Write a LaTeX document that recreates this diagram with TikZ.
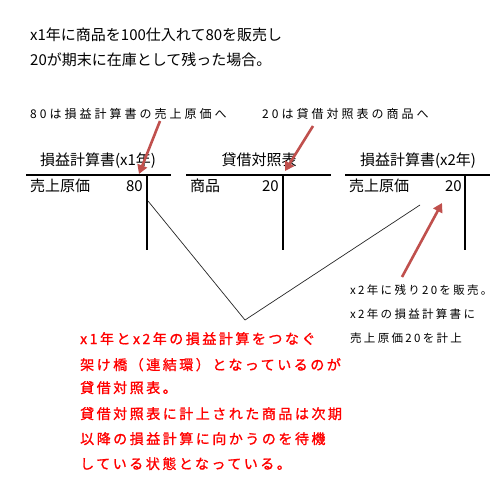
\documentclass[tikz,border=0pt]{standalone}
\usepackage{fontspec}
\setmainfont{Noto Sans CJK JP}
\newfontfamily\hand[LetterSpace=25]{Noto Sans CJK JP}
\newfontfamily\handnote[LetterSpace=20]{Noto Sans CJK JP}
\newfontfamily\handred[LetterSpace=18,FakeBold=1.2]{Noto Sans CJK JP}
\usetikzlibrary{arrows.meta}
\definecolor{arrowred}{RGB}{192,80,77}
\definecolor{textred}{RGB}{255,0,0}
\tikzset{
  maintext/.style={inner sep=0pt, font=\fontsize{15}{18}\selectfont, text height=11pt, text depth=3pt},
  handtext/.style={inner sep=0pt, font=\hand\fontsize{12}{14}\selectfont, text height=9pt, text depth=2pt},
  notetext/.style={inner sep=0pt, font=\handnote\fontsize{11.5}{14}\selectfont, text height=9pt, text depth=2pt},
  redtext/.style={inner sep=0pt, font=\handred\fontsize{14}{16}\selectfont, text height=10.5pt, text depth=2.5pt, text=textred},
  rule/.style={line width=1.2pt, black},
  pointer/.style={line width=2.6pt, arrowred, -{Triangle[length=9pt,width=10pt]}},
  link/.style={line width=0.7pt, black!85},
}
\begin{document}
\begin{tikzpicture}[x=1pt,y=-1pt]
\useasboundingbox[fill=white] (0,0) rectangle (500,476);
% intro text
\node[maintext, anchor=west] (intro1) at (30,37) {x1年に商品を100仕入れて80を販売し};
\node[maintext, anchor=west] (intro2) at (30,62) {20が期末に在庫として残った場合。};
% hand labels
\node[handtext, anchor=west] (lab1) at (30,115) {80は損益計算書の売上原価へ};
\node[handtext, anchor=west] (lab2) at (262,115) {20は貸借対照表の商品へ};
% headers
\node[maintext] (h1) at (98,161) {損益計算書(x1年)};
\node[maintext] (h2) at (259,161) {貸借対照表};
\node[maintext] (h3) at (418,161) {損益計算書(x2年)};
% T-account rules
\coordinate (a1l) at (26,175); \coordinate (a1r) at (171,175);
\coordinate (a1t) at (147,175); \coordinate (a1b) at (147,250);
\coordinate (a2l) at (186,175); \coordinate (a2r) at (331,175);
\coordinate (a2t) at (283,175); \coordinate (a2b) at (283,250);
\coordinate (a3l) at (345,175); \coordinate (a3r) at (490,175);
\coordinate (a3t) at (465,175); \coordinate (a3b) at (465,250);
\draw[rule] (a1l) -- (a1r); \draw[rule] (a1t) -- (a1b);
\draw[rule] (a2l) -- (a2r); \draw[rule] (a2t) -- (a2b);
\draw[rule] (a3l) -- (a3r); \draw[rule] (a3t) -- (a3b);
% rows
\node[maintext, anchor=west] (r1a) at (30,187) {売上原価};
\node[maintext, anchor=east] (r1b) at (143,187) {80};
\node[maintext, anchor=west] (r2a) at (190,187) {商品};
\node[maintext, anchor=east] (r2b) at (279,187) {20};
\node[maintext, anchor=west] (r3a) at (349,187) {売上原価};
\node[maintext, anchor=east] (r3b) at (462,187) {20};
% right notes
\node[notetext, anchor=west] (n1) at (350,291) {x2年に残り20を販売。};
\node[notetext, anchor=west] (n2) at (350,315) {x2年の損益計算書に};
\node[notetext, anchor=west] (n3) at (350,339) {売上原価20を計上};
% red explanation
\node[redtext, anchor=west] (e1) at (80,340) {x1年とx2年の損益計算をつなぐ};
\node[redtext, anchor=west] (e2) at (80,366) {架け橋（連結環）となっているのが};
\node[redtext, anchor=west] (e3) at (80,389) {貸借対照表。};
\node[redtext, anchor=west] (e4) at (80,415) {貸借対照表に計上された商品は次期};
\node[redtext, anchor=west] (e5) at (80,440) {以降の損益計算に向かうのを待機};
\node[redtext, anchor=west] (e6) at (80,465) {している状態となっている。};
% linking lines
\coordinate (l1) at (148,201);
\coordinate (lv) at (245,320);
\coordinate (l2) at (420,205);
\draw[link] (l1) -- (lv) -- (l2);
% red arrows
\coordinate (p1s) at (160,121); \coordinate (p1e) at (139,174);
\coordinate (p2s) at (313,126); \coordinate (p2e) at (285,171);
\coordinate (p3s) at (402,277); \coordinate (p3e) at (442,203);
\draw[pointer] (p1s) -- (p1e);
\draw[pointer] (p2s) -- (p2e);
\draw[pointer] (p3s) -- (p3e);
\end{tikzpicture}
\end{document}
